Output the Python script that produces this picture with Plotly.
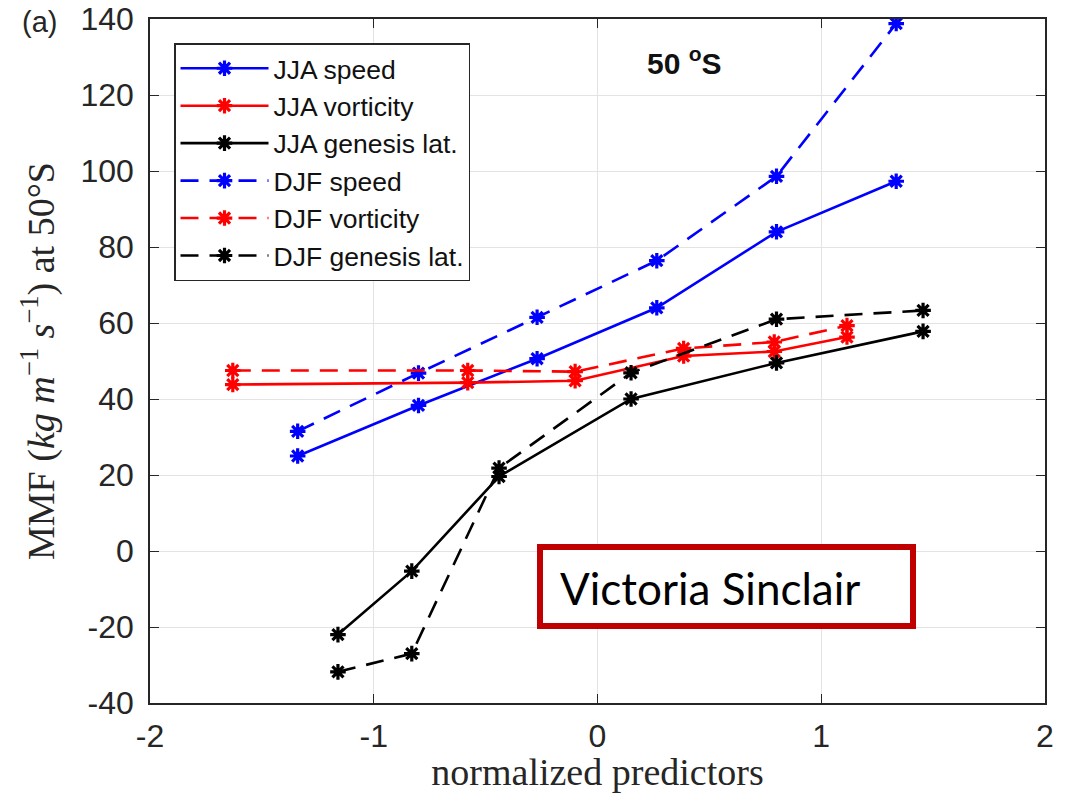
import plotly.graph_objects as go

# ---- data ----
speed_x = [-1.34, -0.80, -0.27, 0.265, 0.80, 1.335]
jja_speed = [25.0, 38.3, 50.6, 64.0, 84.0, 97.3]
djf_speed = [31.5, 46.8, 61.5, 76.4, 98.6, 138.8]

vort_x = [-1.63, -0.58, -0.10, 0.385, 0.79, 1.115]
jja_vort = [43.8, 44.3, 44.8, 51.3, 52.5, 56.3]
djf_vort = [47.5, 47.5, 47.2, 53.3, 55.0, 59.3]

gen_x = [-1.16, -0.83, -0.44, 0.15, 0.80, 1.455]
jja_gen = [-22.0, -5.3, 19.6, 40.0, 49.5, 57.8]
djf_gen = [-31.8, -27.0, 21.8, 46.9, 61.0, 63.3]

x_ticks = [-2, -1, 0, 1, 2]
x_ticklabels = ["-2", "-1", "0", "1", "2"]
y_ticks = [-40, -20, 0, 20, 40, 60, 80, 100, 120, 140]
y_ticklabels = ["-40", "-20", "0", "20", "40", "60", "80", "100", "120", "140"]

series = [
    ("JJA speed", speed_x, jja_speed, "#0000FF", "solid"),
    ("JJA vorticity", vort_x, jja_vort, "#FF0000", "solid"),
    ("JJA genesis lat.", gen_x, jja_gen, "#000000", "solid"),
    ("DJF speed", speed_x, djf_speed, "#0000FF", "18px,11px"),
    ("DJF vorticity", vort_x, djf_vort, "#FF0000", "18px,11px"),
    ("DJF genesis lat.", gen_x, djf_gen, "#000000", "18px,11px"),
]

fig = go.Figure()
for name, xs, ys, col, dash in series:
    fig.add_trace(go.Scatter(
        x=xs, y=ys, name=name, mode="lines+markers",
        line=dict(color=col, width=2.6, dash=dash),
        marker=dict(symbol="asterisk-open", size=13, color=col,
                    line=dict(color=col, width=3.2)),
    ))

axis_common = dict(
    showline=True, linecolor="#262626", linewidth=1.5, mirror="ticks",
    ticks="inside", ticklen=9, tickcolor="#262626", tickwidth=1.3,
    showgrid=True, gridcolor="#e3e3e3", gridwidth=1.2, zeroline=False,
    automargin=False,
    tickfont=dict(family="Liberation Sans", size=32, color="#262626"),
)

fig.update_xaxes(range=[-2, 2], tickvals=x_ticks, ticktext=x_ticklabels,
                 title=dict(text="normalized predictors",
                            font=dict(family="Liberation Serif", size=38, color="#262626"),
                            standoff=2),
                 ticklabelstandoff=4,
                 **axis_common)
fig.update_yaxes(range=[-40, 140], tickvals=y_ticks, ticktext=y_ticklabels,
                 title=dict(text="MMF (<i>kg m</i><sup>−1</sup> <i>s</i><sup>−1</sup>) at 50°S",
                            font=dict(family="Liberation Serif", size=38, color="#262626"),
                            standoff=14),
                 ticklabelstandoff=8,
                 **axis_common)

fig.add_annotation(text="50 <sup>o</sup>S", x=0.39, y=129, xref="x", yref="y",
                   showarrow=False,
                   font=dict(family="Liberation Sans", size=30, color="#111111", weight="bold"))
fig.add_annotation(text="(a)", x=(20 - 150) / 895, y=(703 - 4) / 684, xref="paper", yref="paper",
                   xanchor="left", yanchor="top", showarrow=False,
                   font=dict(family="Liberation Sans", size=29, color="#262626"))

# name box
fig.add_shape(type="rect", xref="paper", yref="paper",
              x0=(540 - 150) / 895, x1=(913 - 150) / 895,
              y0=(703 - 626) / 684, y1=(703 - 547) / 684,
              line=dict(color="#C00000", width=6), fillcolor="white", layer="above")
fig.add_annotation(text="Victoria Sinclair", x=(558 - 150) / 895, y=(703 - 588) / 684,
                   xref="paper", yref="paper", xanchor="left", yanchor="middle",
                   showarrow=False,
                   font=dict(family="Lato", size=44, color="#000000"))

fig.update_layout(
    width=1071, height=793,
    margin=dict(l=150, r=26, t=19, b=90),
    paper_bgcolor="white", plot_bgcolor="white",
    legend=dict(x=(174 - 150) / 895, y=(703 - 43) / 684, xanchor="left", yanchor="top",
                bgcolor="white", bordercolor="#262626", borderwidth=1.5,
                font=dict(family="Liberation Sans", size=26.5, color="#111111"),
                tracegroupgap=0, itemwidth=88),
    showlegend=True,
)

fig.write_html("out.html")
